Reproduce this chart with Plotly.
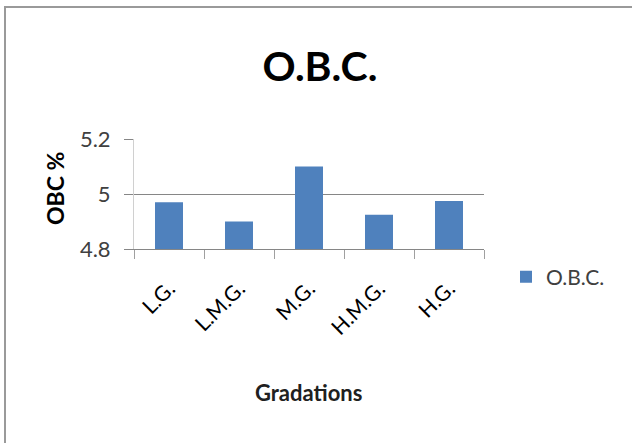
import plotly.graph_objects as go

categories = ["L.G.", "L.M.G.", "M.G.", "H.M.G.", "H.G."]
obc_values = [4.97, 4.90, 5.10, 4.925, 4.975]
y_ticks = [4.8, 5.0, 5.2]
y_tick_labels = ["4.8", "5", "5.2"]

W, H = 632, 443
L, R, T, B = 134, 148, 139, 194
pw, ph = W - L - R, H - T - B

def px_x(p):
    return (p - L) / pw

def px_y(p):
    return (H - B - p) / ph

fig = go.Figure()
fig.add_trace(go.Bar(
    x=categories, y=obc_values, name="O.B.C.",
    marker=dict(color="#4F81BD", line=dict(width=0)),
))

font_family = "Lato, Open Sans, sans-serif"

fig.update_layout(
    width=W, height=H,
    margin=dict(l=L, r=R, t=T, b=B, autoexpand=False),
    paper_bgcolor="white", plot_bgcolor="white",
    bargap=0.6,
    showlegend=True,
    font=dict(family=font_family, color="#404040"),
    title=dict(text="<b>O.B.C.</b>", x=320 / W, xanchor="center",
               y=1 - 67 / H, yanchor="middle", yref="container",
               font=dict(size=41, color="#000000", family=font_family)),
    legend=dict(x=px_x(506), y=px_y(277), xanchor="left", yanchor="middle",
                font=dict(size=21, color="#404040"), bgcolor="rgba(0,0,0,0)"),
    xaxis=dict(
        type="category", showgrid=False, showline=True, linecolor="#868686",
        linewidth=1, ticks="outside", tickson="boundaries", ticklen=9,
        tickcolor="#A0A0A0", tickangle=-45, ticklabelstandoff=18,
        tickfont=dict(size=21, color="#000000"),
    ),
    yaxis=dict(
        range=[4.8, 5.2], tickvals=y_ticks, ticktext=y_tick_labels,
        showgrid=True, gridcolor="#868686", gridwidth=1,
        showline=True, linecolor="#D0D0D0", linewidth=1,
        ticks="outside", ticklen=9, tickcolor="#868686",
        ticklabelstandoff=9,
        tickfont=dict(size=22, color="#404040"),
        zeroline=False,
    ),
    annotations=[
        dict(text="<b>Gradations</b>", x=px_x(308), y=px_y(392),
             xref="paper", yref="paper", showarrow=False,
             xanchor="center", yanchor="middle",
             font=dict(size=22, color="#202020", family=font_family)),
        dict(text="<b>OBC %</b>", x=px_x(55), y=px_y(189),
             xref="paper", yref="paper", showarrow=False, textangle=-90,
             xanchor="center", yanchor="middle",
             font=dict(size=23, color="#000000", family=font_family)),
    ],
    shapes=[
        dict(type="rect", xref="paper", yref="paper",
             x0=px_x(5), x1=px_x(645), y0=px_y(450), y1=px_y(7),
             line=dict(color="#9A9A9A", width=2), fillcolor="rgba(0,0,0,0)",
             layer="below"),
    ],
)

fig.write_html("out.html", config={"displayModeBar": False},
               post_script="document.body.style.margin='0';")
